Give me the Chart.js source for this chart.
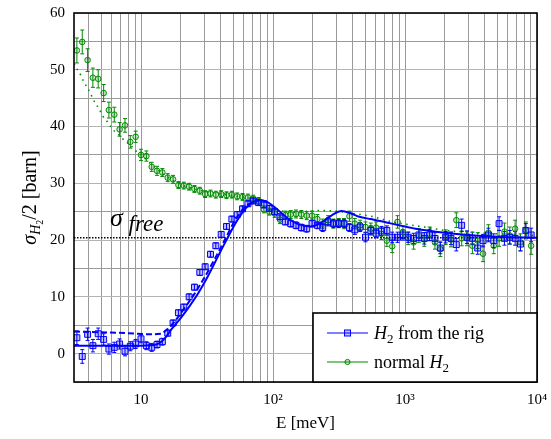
<!DOCTYPE html>
<html>
<head>
<meta charset="utf-8">
<script src="https://cdn.jsdelivr.net/npm/chart.js@4.4.0/dist/chart.umd.min.js"></script>
<style>
  html, body { margin: 0; padding: 0; background: #fff; }
</style>
</head>
<body>
<canvas id="sigmaH2" width="551" height="439"></canvas>
<script>
// energies of the measured points [meV]
const energies = [3.26,3.58,3.93,4.31,4.73,5.20,5.70,6.26,6.87,7.55,8.28,9.09,9.98,10.96,12.03,13.20,14.49,15.91,17.47,19.17,
    21.05,23.11,25.36,27.84,30.56,33.55,36.83,40.43,44.38,48.72,53.48,58.71,64.45,70.75,77.66,85.25,93.59,102.7,112.8,123.8,
    135.9,149.2,163.8,179.8,197.3,216.6,237.8,261.0,286.6,314.6,345.3,379.1,416.1,456.8,501.4,550.4,604.2,663.3,728.2,799.3,
    877.4,963.2,1057,1161,1274,1399,1535,1685,1850,2031,2230,2447,2687,2949,3238,3554,3901,4283,4701,5161,
    5665,6219,6827,7494,8227,9031];

// normal H2
const normalVals = [53.4,54.9,51.7,48.6,48.4,45.9,42.9,42.1,39.5,40.2,
    37.3,38.2,35.0,34.8,32.9,32.2,31.9,31.0,30.7,29.7,
    29.6,29.4,29.0,28.7,28.1,28.2,28.0,28.1,27.9,28.0,
    27.7,27.6,27.5,27.3,26.9,25.4,25.0,24.7,23.6,24.4,
    24.5,24.6,24.5,24.3,24.3,23.7,22.9,23.5,22.9,23.0,
    22.9,24.2,22.9,22.6,22.3,22.0,22.2,21.1,19.9,18.9,
    23.2,21.4,20.3,19.6,20.8,20.1,21.1,19.6,18.4,20.5,
    20.1,23.5,20.3,20.3,19.0,19.9,17.6,21.3,19.0,20.3,
    21.5,20.8,22.0,19.6,21.7,19.0];
const normalErr = [2.2,2.1,2.0,1.7,1.6,1.5,1.4,1.3,1.2,1.2,
    1.1,1.0,1.0,0.9,0.8,0.8,0.7,0.7,0.7,0.6,
    0.6,0.6,0.6,0.6,0.6,0.6,0.6,0.6,0.6,0.6,
    0.6,0.6,0.6,0.6,0.6,0.6,0.6,0.7,0.7,0.7,
    0.7,0.7,0.7,0.7,0.8,0.8,0.8,0.8,0.8,0.8,
    0.9,0.9,0.9,0.9,0.9,1.0,1.0,1.0,1.0,1.1,
    1.1,1.1,1.1,1.2,1.2,1.2,1.2,1.2,1.3,1.3,
    1.3,1.3,1.3,1.3,1.4,1.4,1.4,1.4,1.4,1.4,
    1.5,1.5,1.5,1.5,1.5,1.5];

// H2 from the rig
const rigVals = [2.8,-0.5,3.4,1.4,3.5,2.5,0.8,1.1,1.7,0.4,
    1.3,1.7,2.6,1.4,1.1,1.6,2.1,3.6,5.4,7.2,
    8.2,10.0,11.7,14.3,15.3,17.5,19.0,21.0,22.4,23.7,
    24.5,25.5,26.4,26.9,26.6,26.2,25.6,25.0,24.1,23.2,
    22.9,22.6,22.2,22.0,22.9,22.6,22.2,23.2,22.9,22.9,
    22.9,22.2,21.8,22.3,20.5,21.7,21.2,21.6,21.7,20.5,
    20.5,20.9,20.5,20.3,20.9,20.3,20.9,20.3,18.6,20.5,
    20.3,19.2,22.6,20.5,20.3,18.6,19.9,20.9,19.9,22.9,
    20.3,20.5,20.3,19.3,21.7,20.9];
const rigErr = [1.2,1.2,1.1,1.1,1.0,1.0,0.9,0.9,0.9,0.8,
    0.8,0.8,0.7,0.7,0.7,0.6,0.6,0.5,0.5,0.5,
    0.5,0.5,0.5,0.5,0.5,0.5,0.5,0.5,0.5,0.5,
    0.5,0.5,0.5,0.5,0.5,0.5,0.5,0.5,0.5,0.5,
    0.6,0.6,0.6,0.6,0.6,0.6,0.7,0.7,0.7,0.7,
    0.7,0.7,0.8,0.8,0.8,0.8,0.8,0.8,0.8,0.9,
    0.9,0.9,0.9,0.9,1.0,1.0,1.0,1.0,1.0,1.0,
    1.1,1.1,1.1,1.1,1.1,1.1,1.1,1.2,1.2,1.2,
    1.2,1.2,1.2,1.2,1.2,1.2];

// curves
const fitE    = [3.1,10,13,15,17,20,23,27,32,38,45,53,62,72,82,95,110,130,155,190,230,280,330,380,450,550,700,900,1200,2000,3000,5000,10000];
const fitVals = [1.4,1.4,1.6,2.6,4.3,6.3,8.2,10.6,13.6,17.0,20.3,23.3,25.6,26.8,27.0,26.4,25.2,23.8,22.8,22.4,23.0,24.4,25.1,24.8,24.1,23.7,23.2,22.6,22.0,21.3,20.9,20.6,20.4];
const dashE    = [3.1,8,12,14,16,18,21,25,30,36,43,51,60,70,80,90];
const dashVals = [3.9,3.6,3.4,3.5,4.4,5.7,7.8,10.3,13.3,16.6,20.0,23.3,25.6,26.7,27.0,26.8];
const calcE    = [3.1,3.29,3.5,3.66,3.88,4.12,4.32,4.57,4.85,5.14,5.52,5.92,6.39,6.98,7.52,8.21,8.91,10,12,15,20,30,50,70,90,110,135,170,220,300,400,550,800,1000,1500,2000,3000,5000,10000];
const calcVals = [51.1,50.0,49.0,48.0,47.0,45.9,44.8,43.9,42.9,41.8,40.9,39.9,39.0,38.3,37.4,36.9,35.9,35.0,33.3,31.5,29.8,28.6,27.8,27.3,26.5,25.3,24.9,25.0,25.2,25.1,24.7,24.2,23.2,22.8,22.2,21.7,21.4,21.1,20.8];
const sigmaFree = 20.4;

const xGridTicks = [4,5,6,7,8,9,10,20,30,40,50,60,70,80,90,100,200,300,400,500,600,700,800,900,
    1000,2000,3000,4000,5000,6000,7000,8000,9000,10000];
const xLabels = { 10: '10', 100: '10²', 1000: '10³', 10000: '10⁴' };

const BLUE = '#0000ff';
const GREEN = '#008a00';
const SERIF = '"Liberation Serif", "DejaVu Serif", serif';

const pts = (xs, ys) => xs.map((x, i) => ({ x: x, y: ys[i] }));

// draw text made of pieces with different fonts / offsets
function richWidth(ctx, parts) {
    let w = 0;
    parts.forEach(p => { ctx.font = p.font; w += ctx.measureText(p.t).width; });
    return w;
}
function richText(ctx, parts, x, y) {
    parts.forEach(p => {
        ctx.font = p.font;
        ctx.fillText(p.t, x, y + (p.dy || 0));
        x += ctx.measureText(p.t).width;
    });
}

const errorBars = {
    id: 'errorBars',
    beforeDatasetsDraw(chart) {
        const ctx = chart.ctx, xs = chart.scales.x, ys = chart.scales.y, a = chart.chartArea;
        ctx.save();
        ctx.beginPath();
        ctx.rect(a.left, a.top, a.right - a.left, a.bottom - a.top);
        ctx.clip();
        [[normalVals, normalErr, GREEN], [rigVals, rigErr, BLUE]].forEach(([vals, errs, col]) => {
            ctx.strokeStyle = col;
            ctx.lineWidth = 1;
            energies.forEach((e, i) => {
                const px = xs.getPixelForValue(e);
                const y1 = ys.getPixelForValue(vals[i] - errs[i]);
                const y2 = ys.getPixelForValue(vals[i] + errs[i]);
                ctx.beginPath();
                ctx.moveTo(px, y1); ctx.lineTo(px, y2);
                ctx.moveTo(px - 2, y1); ctx.lineTo(px + 2, y1);
                ctx.moveTo(px - 2, y2); ctx.lineTo(px + 2, y2);
                ctx.stroke();
            });
        });
        ctx.restore();
    }
};

const decorations = {
    id: 'decorations',
    afterDraw(chart) {
        const ctx = chart.ctx, a = chart.chartArea, ys = chart.scales.y;
        ctx.save();
        ctx.fillStyle = '#000';
        ctx.textBaseline = 'alphabetic';

        // sigma free
        const fy = ys.getPixelForValue(sigmaFree);
        richText(ctx, [
            { t: 'σ', font: 'italic 26px ' + SERIF },
            { t: ' free', font: 'italic 23px ' + SERIF, dy: 5 }
        ], a.left + 36, fy - 12);

        // frame
        ctx.strokeStyle = '#000';
        ctx.lineWidth = 1.6;
        ctx.strokeRect(a.left, a.top, a.right - a.left, a.bottom - a.top);

        // legend
        const lx = 313, ly = 313, lw = a.right - 313, lh = a.bottom - 313;
        ctx.fillStyle = '#fff';
        ctx.fillRect(lx, ly, lw, lh);
        ctx.strokeRect(lx, ly, lw, lh);
        const rows = [
            { y: ly + 20, col: BLUE, style: 'rect', parts: [
                { t: 'H', font: 'italic 18px ' + SERIF },
                { t: '2', font: '13px ' + SERIF, dy: 4 },
                { t: ' from the rig', font: '18px ' + SERIF }] },
            { y: ly + 49, col: GREEN, style: 'circle', parts: [
                { t: 'normal ', font: '18px ' + SERIF },
                { t: 'H', font: 'italic 18px ' + SERIF },
                { t: '2', font: '13px ' + SERIF, dy: 4 }] }
        ];
        rows.forEach(r => {
            ctx.strokeStyle = r.col;
            ctx.lineWidth = 1;
            ctx.beginPath();
            ctx.moveTo(lx + 14, r.y); ctx.lineTo(lx + 55, r.y);
            ctx.stroke();
            if (r.style === 'rect') {
                ctx.fillStyle = 'rgba(0,0,255,0.25)';
                ctx.fillRect(lx + 31.5, r.y - 3, 6, 6);
                ctx.strokeRect(lx + 31.5, r.y - 3, 6, 6);
            } else {
                ctx.fillStyle = 'rgba(0,138,0,0.2)';
                ctx.beginPath();
                ctx.arc(lx + 34.5, r.y, 2.6, 0, Math.PI * 2);
                ctx.fill(); ctx.stroke();
            }
            ctx.fillStyle = '#000';
            richText(ctx, r.parts, lx + 61, r.y + 6);
        });

        // axis titles
        ctx.font = '17px ' + SERIF;
        ctx.textAlign = 'center';
        ctx.fillText('E [meV]', (a.left + a.right) / 2, 428);
        ctx.textAlign = 'left';

        const yParts = [
            { t: 'σ', font: 'italic 20px ' + SERIF },
            { t: 'H', font: 'italic 14px ' + SERIF, dy: 4 },
            { t: '2', font: '10px ' + SERIF, dy: 7 },
            { t: '/2 [barn]', font: '20px ' + SERIF }
        ];
        const w = richWidth(ctx, yParts);
        ctx.translate(36, (a.top + a.bottom) / 2);
        ctx.rotate(-Math.PI / 2);
        richText(ctx, yParts, -w / 2, 0);
        ctx.restore();
    }
};

new Chart(document.getElementById('sigmaH2').getContext('2d'), {
    type: 'scatter',
    data: {
        datasets: [
            {
                label: 'fit rig',
                data: pts(fitE, fitVals),
                showLine: true,
                borderColor: BLUE,
                borderWidth: 2,
                pointRadius: 0,
                cubicInterpolationMode: 'monotone'
            },
            {
                label: 'fit rig dashed',
                data: pts(dashE, dashVals),
                showLine: true,
                borderColor: BLUE,
                borderWidth: 2,
                borderDash: [6, 3],
                pointRadius: 0,
                cubicInterpolationMode: 'monotone'
            },
            {
                label: 'H2 from the rig',
                data: pts(energies, rigVals),
                pointStyle: 'rect',
                pointRadius: 4.2,
                borderWidth: 1,
                borderColor: BLUE,
                backgroundColor: 'rgba(0,0,255,0.25)'
            },
            {
                label: 'normal H2',
                data: pts(energies, normalVals),
                pointStyle: 'circle',
                pointRadius: 2.8,
                borderWidth: 1,
                borderColor: GREEN,
                backgroundColor: 'rgba(0,138,0,0.2)'
            },
            {
                label: 'calc normal',
                data: pts(calcE, calcVals),
                showLine: true,
                borderColor: GREEN,
                borderWidth: 1.6,
                borderDash: [1.5, 4.5],
                pointRadius: 0,
                cubicInterpolationMode: 'monotone'
            },
            {
                label: 'sigma free',
                data: [{ x: 3.1, y: sigmaFree }, { x: 10000, y: sigmaFree }],
                showLine: true,
                borderColor: '#000',
                borderWidth: 1.5,
                borderDash: [1.5, 1.5],
                pointRadius: 0
            }
        ]
    },
    options: {
        responsive: false,
        animation: false,
        devicePixelRatio: 1,
        layout: { padding: { top: 13, right: 14, left: 0, bottom: 0 } },
        scales: {
            x: {
                type: 'logarithmic',
                min: 3.1,
                max: 10000,
                afterBuildTicks: s => { s.ticks = xGridTicks.map(v => ({ value: v })); },
                afterFit: s => { s.height = 57; s.paddingLeft = 0; s.paddingRight = 0; },
                border: { display: false },
                grid: { color: '#9a9a9a', lineWidth: 1, drawTicks: false },
                ticks: {
                    autoSkip: false,
                    maxRotation: 0,
                    padding: 9,
                    color: '#000',
                    font: { family: SERIF, size: 15 },
                    callback: v => xLabels[v] || ''
                }
            },
            y: {
                min: -5,
                max: 60,
                afterFit: s => { s.width = 74; s.paddingTop = 0; s.paddingBottom = 0; },
                border: { display: false },
                grid: {
                    color: c => (c.tick && c.tick.value % 10 === 0) ? '#b4b4b4' : '#9a9a9a',
                    lineWidth: 1,
                    drawTicks: false
                },
                ticks: {
                    stepSize: 5,
                    padding: 9,
                    color: '#000',
                    font: { family: SERIF, size: 15 },
                    callback: v => (v % 10 === 0) ? String(v) : ''
                }
            }
        },
        plugins: {
            legend: { display: false },
            tooltip: { enabled: false }
        }
    },
    plugins: [errorBars, decorations]
});
</script>
</body>
</html>
